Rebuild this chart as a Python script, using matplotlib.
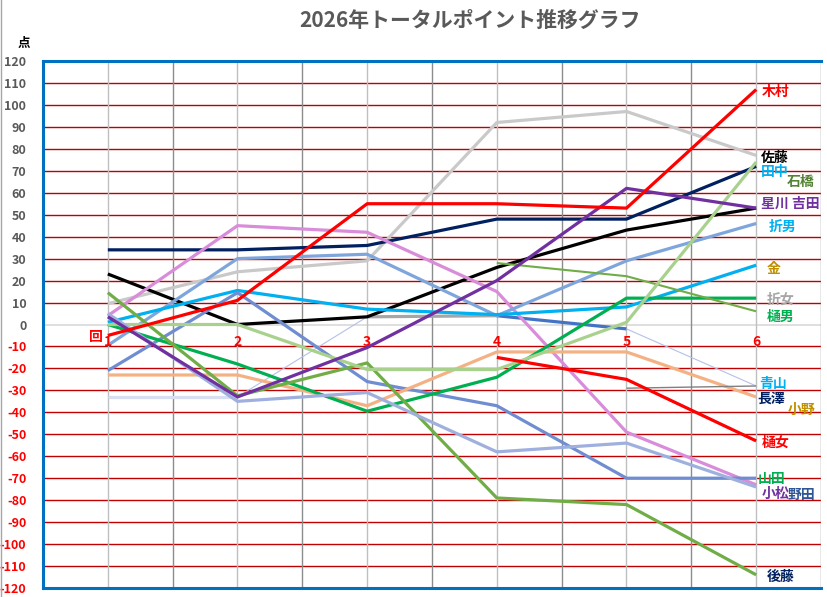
import matplotlib
matplotlib.use("Agg")
import matplotlib.pyplot as plt
import numpy as np

plt.rcParams['font.family'] = ['Noto Sans CJK JP', 'DejaVu Sans']

nan = np.nan
rounds = [1, 2, 3, 4, 5, 6]
round_labels = ["1", "2", "3", "4", "5", "6"]
title = "2026年トータルポイント推移グラフ"

# series values (points per round)
navy_vals      = [34, 34, 36, 48, 48, 72]
black_vals     = [23, 0, 3.5, 26, 43, 53]
red_vals       = [-5, 11, 55, 55, 53, 107]
pink_vals      = [4, 45, 42, 15, -49, -73]
lgrey_vals     = [9.5, 24, 29, 92, 97, 77]
lblue_vals     = [-9.5, 30, 32, 4, 29, 46]
cyan_vals      = [1, 15.5, 7, 4.5, 8, 27]
mblue_vals     = [-21, 14.5, -26, -37, -70, -70]
peach_vals     = [-23, -23, -37, -12.5, -12.5, -33]
emerald_vals   = [0, -18, -39.5, -24, 12, 12]
purple_vals    = [3.5, -33, -10.5, 20, 62, 53]
olive_vals     = [14.5, -32.5, -17.5, -79, -82, -114]
olive2_vals    = [nan, nan, nan, 28, 22, 6]
sage_vals      = [0, 0, -20.5, -20.5, 1, 74]
peri_vals      = [5, -35, -31, -58, -54, -74]
pale_vals      = [-33, -33, 3.5, 4, -2, -28]
grey2_vals     = [nan, nan, nan, nan, -29, -28]
red2_vals      = [nan, nan, nan, -15, -25, -53]

# end labels
label_names  = ["木村", "佐藤", "田中", "石橋", "星川 吉田", "折男", "金", "折女", "樋男",
                "青山", "長澤", "小野", "樋女", "山田", "小松", "野田", "後藤"]
label_values = [106, 76, 69.5, 65, 55, 44.5, 25.5, 11.5, 3.5,
                -27, -34, -39, -54, -70.5, -77, -77.5, -115]
label_colors = ["#FF0000", "#000000", "#00B0F0", "#548235", "#7030A0", "#00B0F0", "#BF9000",
                "#A6A6A6", "#00B050", "#00B0F0", "#002060", "#BF9000", "#FF0000", "#00B050",
                "#7030A0", "#2F5597", "#002060"]
label_dx     = [0.04, 0.04, 0.04, 0.24, 0.04, 0.10, 0.08, 0.08, 0.08,
                0.02, 0.01, 0.24, 0.04, 0.01, 0.04, 0.24, 0.08]

fig = plt.figure(figsize=(8.28, 5.97), dpi=100)
ax = fig.add_axes([43/828, 9/597, 778/828, 527/597])

ax.set_xlim(0.5, 6.5)
ax.set_ylim(-120, 120)

# grid lines
yt = np.arange(-120, 121, 10)
for v in yt[1:-1]:
    if v == 0:
        ax.axhline(v, color="#D9D9D9", lw=1.2, zorder=1)
    else:
        ax.axhline(v, color="#C00000", lw=1.0, zorder=1)
for xv in np.arange(1, 7):
    ax.axvline(xv, color="#BFBFBF", lw=1.0, zorder=1)
for xv in np.arange(1.5, 6.6, 1.0):
    ax.axvline(xv, color="#8C8C8C", lw=1.0, zorder=1)

x = np.array(rounds, dtype=float)
W = 2.3
series = [
    (lgrey_vals, "#C9C9C9", W),
    (navy_vals, "#002060", W),
    (black_vals, "#000000", W),
    (pink_vals, "#D98CD9", W),
    (lblue_vals, "#7EA6DC", W),
    (cyan_vals, "#00B0F0", W),
    (mblue_vals, "#6F8DD0", W),
    (peach_vals, "#F4B183", W),
    (emerald_vals, "#00B050", W),
    (olive_vals, "#70AD47", W),
    (olive2_vals, "#70AD47", 1.5),
    (sage_vals, "#A9D18E", W),
    (peri_vals, "#9FB0DE", W),
    (grey2_vals, "#808080", 1.0),
    (red2_vals, "#FF0000", W),
    (purple_vals, "#7030A0", W),
    (red_vals, "#FF0000", W),
]
for vals, c, lw in series:
    ax.plot(x, vals, color=c, lw=lw, solid_capstyle="butt", zorder=3)

# multi-styled series (segment formats)
seg_styles = [("#D9DEF0", W), ("#B4C0E8", 0.8), ("#A6A6A6", W), ("#4472C4", W), ("#B4C0E8", 0.8)]
for i, (c, lw) in enumerate(seg_styles):
    ax.plot(x[i:i+2], pale_vals[i:i+2], color=c, lw=lw, solid_capstyle="butt", zorder=2.5)

# spines
for s in ["top", "left", "bottom"]:
    ax.spines[s].set_color("#0070C0")
    ax.spines[s].set_linewidth(2.2)
    ax.spines[s].set_zorder(5)
ax.spines["right"].set_visible(False)

# y ticks
ax.set_yticks(yt)
ax.set_yticklabels([str(v) for v in yt], fontsize=9, fontweight="bold")
for lab, v in zip(ax.get_yticklabels(), yt):
    lab.set_color("#595959" if v >= 0 else "#FF0000")
ax.tick_params(axis="y", length=0, pad=12)
ax.set_xticks([])

# x labels along zero line
for xv, t in zip(rounds, round_labels):
    ax.text(xv, -8, t, color="#FF0000", fontsize=10, fontweight="bold",
            ha="center", va="center", zorder=6)
ax.text(0.965, -5.5, "回", color="#FF0000", fontsize=10, fontweight="bold",
        ha="right", va="center", zorder=6)

# end labels
for n, v, c, dx in zip(label_names, label_values, label_colors, label_dx):
    ax.text(6 + dx, v, n, color=c, fontsize=10, fontweight="bold",
            ha="left", va="center", zorder=6, clip_on=False)

fig.text(24/828, 1 - 43/597, "点", fontsize=9, fontweight="bold", ha="center", va="center")
fig.text(470/828, 1 - 20/597, title, fontsize=15, fontweight="bold", color="#595959",
         ha="center", va="center")

fig.add_artist(plt.Line2D([1/828, 1/828], [0, 1], transform=fig.transFigure,
                          color="#A6A6A6", lw=1.0))

fig.savefig("out.png", dpi=100)
